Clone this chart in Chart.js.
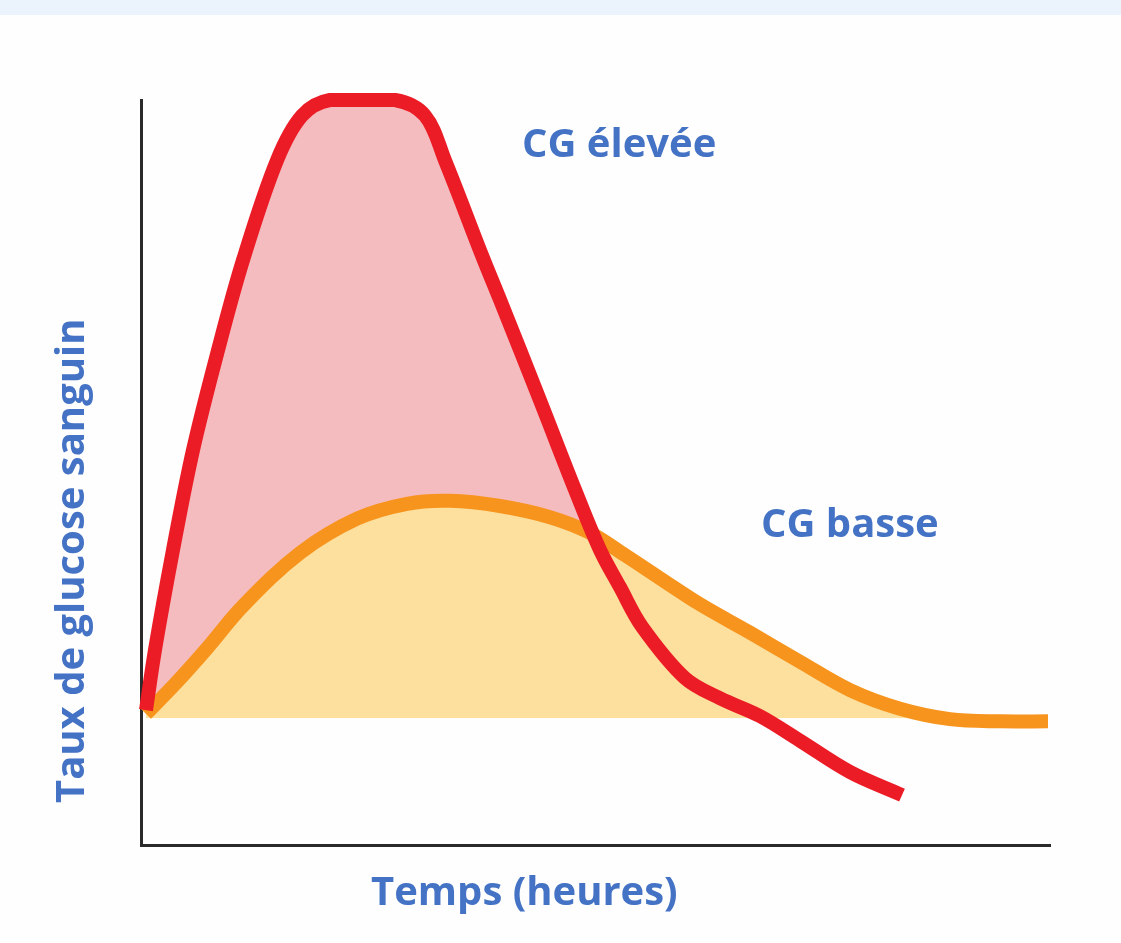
<!DOCTYPE html>
<html>
<head>
<meta charset="utf-8">
<script src="https://cdn.jsdelivr.net/npm/chart.js@4/dist/chart.umd.min.js"></script>
<style>
  html, body { margin: 0; padding: 0; background: #fefefe; }
  canvas { display: block; }
</style>
</head>
<body>
<canvas id="glucoseChart" width="1121" height="943"></canvas>
<script>
// time in hours (0..10), glucose level (0..100)
const highGiTimes  = [0.055, 0.154, 0.352, 0.572, 0.847, 1.122, 1.496, 1.771, 2.079, 2.794, 3.124, 3.344, 3.762, 3.949, 4.389, 4.774, 5.050, 5.270, 5.512, 5.985, 6.370, 6.810, 7.250, 7.800, 8.372];
const highGiLevels = [18.1, 26.2, 39.6, 53.0, 66.4, 78.5, 91.9, 97.9, 100, 100, 97.9, 91.9, 78.8, 73.2, 59.7, 47.7, 39.6, 34.6, 29.3, 22.4, 19.7, 17.3, 14.0, 9.8, 6.7];

const lowGiTimes  = [0.055, 0.374, 0.726, 1.122, 1.749, 2.376, 2.926, 3.399, 3.949, 4.499, 4.939, 5.325, 5.710, 6.150, 6.700, 7.250, 7.800, 8.350, 8.900, 9.450, 9.978];
const lowGiLevels = [17.6, 21.6, 26.4, 32.1, 39.2, 43.8, 45.8, 46.2, 45.5, 44.0, 41.9, 38.9, 35.8, 32.3, 28.5, 24.6, 20.8, 18.3, 16.9, 16.6, 16.6];

const baselineLevel = 17;

const highGiLabel = 'CG élevée';
const lowGiLabel = 'CG basse';
const xTitle = 'Temps (heures)';
const yTitle = 'Taux de glucose sanguin';

const toPoints = (xs, ys) => xs.map((x, i) => ({ x: x, y: ys[i] }));

const textColor = '#4472c4';
const textFont = 'bold 40px "Open Sans", "DejaVu Sans", sans-serif';

const backgroundPlugin = {
    id: 'pageBackground',
    beforeDraw(chart) {
        const ctx = chart.ctx;
        ctx.save();
        ctx.fillStyle = '#fefefe';
        ctx.fillRect(0, 0, chart.width, chart.height);
        ctx.fillStyle = '#ebf3fc';
        ctx.fillRect(0, 0, chart.width, 15);
        ctx.restore();
    }
};

const labelsPlugin = {
    id: 'curveLabels',
    afterDraw(chart) {
        const ctx = chart.ctx;
        ctx.save();
        ctx.fillStyle = textColor;
        ctx.font = textFont;
        ctx.textAlign = 'left';
        ctx.textBaseline = 'alphabetic';
        ctx.fillText(highGiLabel, 522, 157);
        ctx.fillText(lowGiLabel, 761, 537);
        ctx.fillText(xTitle, 371, 905);
        ctx.translate(84, 803);
        ctx.rotate(-Math.PI / 2);
        ctx.fillText(yTitle, 0, 0);
        ctx.restore();
    }
};

const ctx = document.getElementById('glucoseChart');

new Chart(ctx, {
    type: 'line',
    data: {
        datasets: [{
            label: highGiLabel,
            data: toPoints(highGiTimes, highGiLevels),
            borderColor: '#ec1c26',
            borderWidth: 14,
            borderCapStyle: 'butt',
            borderJoinStyle: 'round',
            pointRadius: 0,
            tension: 0.35,
            fill: { target: 1, above: '#f5bcbf', below: 'rgba(0,0,0,0)' },
            clip: false
        }, {
            label: lowGiLabel,
            data: toPoints(lowGiTimes, lowGiLevels),
            borderColor: '#f7941d',
            borderWidth: 14,
            borderCapStyle: 'butt',
            borderJoinStyle: 'round',
            pointRadius: 0,
            tension: 0.35,
            fill: { target: { value: baselineLevel }, above: '#fde09e', below: 'rgba(0,0,0,0)' },
            clip: false
        }]
    },
    options: {
        responsive: false,
        animation: false,
        layout: {
            padding: { left: 141, right: 71, top: 100, bottom: 98 }
        },
        plugins: {
            legend: { display: false },
            tooltip: { enabled: false },
            filler: { drawTime: 'beforeDatasetsDraw' }
        },
        scales: {
            x: {
                type: 'linear',
                min: 0,
                max: 10,
                grid: { display: false, drawTicks: false },
                ticks: { display: false },
                border: { display: true, color: '#2a2a2a', width: 3 }
            },
            y: {
                min: 0,
                max: 100,
                grid: { display: false, drawTicks: false },
                ticks: { display: false },
                border: { display: true, color: '#2a2a2a', width: 3 }
            }
        }
    },
    plugins: [backgroundPlugin, labelsPlugin]
});
</script>
</body>
</html>
